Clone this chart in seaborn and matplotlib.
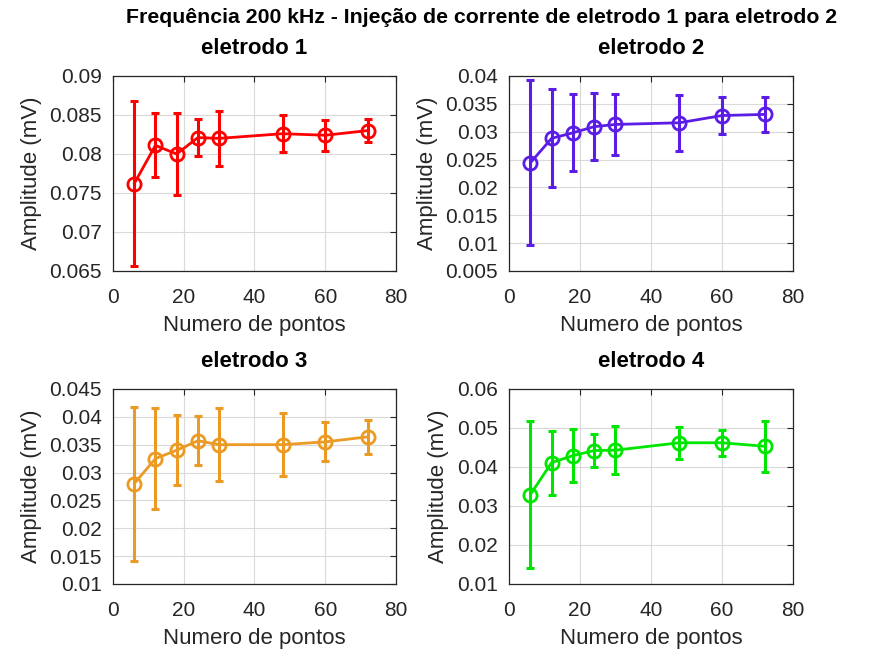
import matplotlib
matplotlib.use("Agg")
import matplotlib.pyplot as plt
import seaborn as sns
import pandas as pd
from matplotlib.ticker import FuncFormatter

npontos = [6, 12, 18, 24, 30, 48, 60, 72]

amp_e1 = [0.0762, 0.0811, 0.0800, 0.0821, 0.0820, 0.0826, 0.0824, 0.0830]
err_e1 = [0.0106, 0.0041, 0.0053, 0.0024, 0.0035, 0.0024, 0.0020, 0.0015]

amp_e2 = [0.0244, 0.0288, 0.0298, 0.0309, 0.0313, 0.0316, 0.0329, 0.0331]
err_e2 = [0.0148, 0.0088, 0.0069, 0.0060, 0.0055, 0.0050, 0.0034, 0.0031]

amp_e3 = [0.0280, 0.0325, 0.0340, 0.0357, 0.0350, 0.0350, 0.0355, 0.0364]
err_e3 = [0.0138, 0.0091, 0.0063, 0.0044, 0.0066, 0.0057, 0.0035, 0.0030]

amp_e4 = [0.0329, 0.0411, 0.0429, 0.0442, 0.0443, 0.0462, 0.0462, 0.0453]
err_e4 = [0.0188, 0.0082, 0.0068, 0.0043, 0.0061, 0.0041, 0.0033, 0.0066]

titles = ["eletrodo 1", "eletrodo 2", "eletrodo 3", "eletrodo 4"]
colors = ["#FF0000", "#5B1CE6", "#EB9A23", "#00E600"]
ylims = [(0.065, 0.09), (0.005, 0.04), (0.01, 0.045), (0.01, 0.06)]
ysteps = [0.005, 0.005, 0.005, 0.01]
xticks = [0, 20, 40, 60, 80]

sns.set_theme(style="whitegrid")
plt.rcParams["font.family"] = ["Liberation Sans", "DejaVu Sans"]

fig = plt.figure(figsize=(8.75, 6.56), dpi=100)
positions = [
    [0.1291, 0.5869, 0.3234, 0.2973],
    [0.5817, 0.5869, 0.3246, 0.2973],
    [0.1291, 0.1098, 0.3234, 0.2973],
    [0.5817, 0.1098, 0.3246, 0.2973],
]

amps = [amp_e1, amp_e2, amp_e3, amp_e4]
errs = [err_e1, err_e2, err_e3, err_e4]

fmt = FuncFormatter(lambda v, p: f"{v:g}")
axcol = "#262626"

for i in range(4):
    ax = fig.add_axes(positions[i])
    df = pd.DataFrame({"x": npontos, "y": amps[i], "e": errs[i]})
    ax.errorbar(df["x"], df["y"], yerr=df["e"], fmt="none", ecolor=colors[i],
                elinewidth=2.2, capsize=3.0, capthick=2.2, zorder=3)
    sns.lineplot(data=df, x="x", y="y", ax=ax, color=colors[i], linewidth=2.0,
                 marker="o", markersize=9.5, markerfacecolor="none",
                 markeredgecolor=colors[i], markeredgewidth=2.0, zorder=4)
    lo, hi = ylims[i]
    n = int(round((hi - lo) / ysteps[i]))
    ax.set_yticks([lo + k * ysteps[i] for k in range(n + 1)])
    ax.set_ylim(lo, hi)
    ax.set_xticks(xticks)
    ax.set_xlim(0, 80)
    ax.yaxis.set_major_formatter(fmt)
    ax.set_xlabel("Numero de pontos", fontsize=16, color=axcol, labelpad=6)
    ax.set_ylabel("Amplitude (mV)", fontsize=16, color=axcol, labelpad=5.5)
    ax.set_title(titles[i], fontsize=16, fontweight="bold", pad=16, color="black")
    ax.tick_params(axis="both", labelsize=15, colors=axcol, direction="in",
                   length=4, width=0.8, top=True, right=True)
    ax.tick_params(axis="x", pad=12)
    ax.tick_params(axis="y", pad=8)
    ax.grid(True, color="#DADADA", linewidth=0.8)
    ax.set_facecolor("white")
    for s in ax.spines.values():
        s.set_color(axcol)
        s.set_linewidth(0.9)
        s.set_visible(True)

fig.suptitle("Frequência 200 kHz - Injeção de corrente de eletrodo 1 para eletrodo 2",
             fontsize=15.3, fontweight="bold", x=0.55, y=0.988, color="black")
fig.savefig("out.png", dpi=100, facecolor="white")
